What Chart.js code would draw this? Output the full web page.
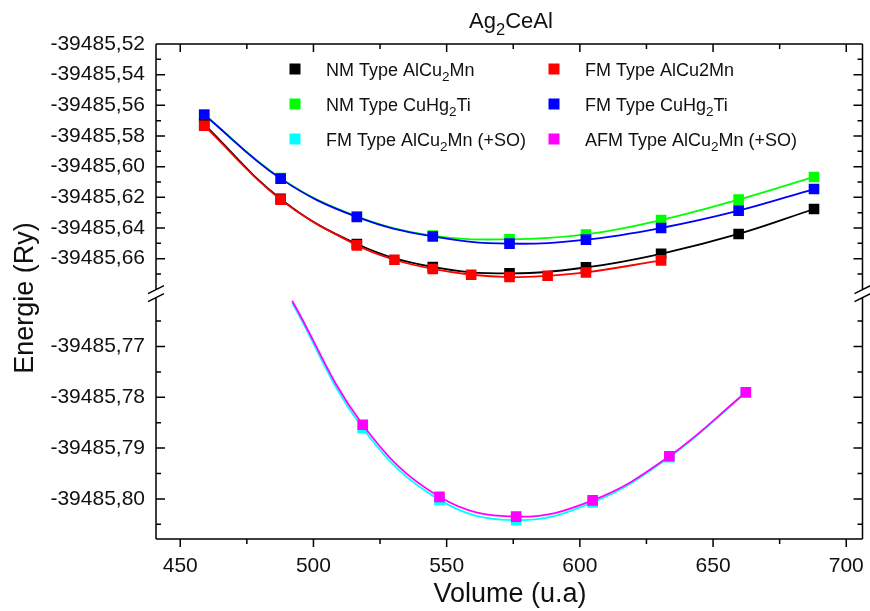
<!DOCTYPE html>
<html>
<head>
<meta charset="utf-8">
<script src="https://cdn.jsdelivr.net/npm/chart.js@4.4.0/dist/chart.umd.min.js"></script>
<style>
  html, body { margin: 0; padding: 0; background: #fff; }
  #wrap { width: 870px; height: 611px; }
</style>
</head>
<body>
<div id="wrap"><canvas id="c" width="870" height="611"></canvas></div>
<script>
// volumes (u.a)
var volNM = [459.0, 487.7, 516.3, 544.8, 573.6, 602.3, 630.5, 659.6, 687.9];
var volFM = [459.0, 487.7, 516.3, 530.4, 544.8, 559.2, 573.6, 587.9, 602.3, 630.5];
var volSO = [492.0, 518.5, 547.3, 576.1, 604.8, 633.6, 662.3]; // first one = where the fit curve enters the lower panel

// energies (Ry)
var eNM_AlCu2Mn = [-39485.5725, -39485.6210, -39485.6504, -39485.6654, -39485.6696, -39485.6657, -39485.6568, -39485.6439, -39485.6276];
var eFM_AlCu2Mn = [-39485.5733, -39485.6215, -39485.6513, -39485.6607, -39485.6667, -39485.6705, -39485.6720, -39485.6711, -39485.6690, -39485.6611];
var eNM_CuHg2Ti = [-39485.5660, -39485.6075, -39485.6324, -39485.6450, -39485.6474, -39485.6442, -39485.6348, -39485.6215, -39485.6067];
var eFM_CuHg2Ti = [-39485.5661, -39485.6078, -39485.6328, -39485.6455, -39485.6502, -39485.6476, -39485.6400, -39485.6287, -39485.6146];
var eFM_SO  = [-39485.7614, -39485.7861, -39485.8002, -39485.8042, -39485.8007, -39485.7918, -39485.7791];
var eAFM_SO = [-39485.7610, -39485.7854, -39485.7996, -39485.8035, -39485.8003, -39485.7916, -39485.7790];

// "_2" = subscript 2
var labels = ['NM Type AlCu_2Mn', 'FM Type AlCu2Mn', 'NM Type CuHg_2Ti', 'FM Type CuHg_2Ti', 'FM Type AlCu_2Mn (+SO)', 'AFM Type AlCu_2Mn (+SO)'];
var colors = ['#000000', '#ff0000', '#00ff00', '#0000ff', '#00ffff', '#ff00ff'];
var titleText = 'Ag_2CeAl';
var xTitle = 'Volume (u.a)';
var yTitle = 'Energie (Ry)';

var FONT = '"Liberation Sans", Arial, sans-serif';
function font(s) { return s + 'px ' + FONT; }

function pts(xs, ys) {
  var out = [];
  for (var i = 0; i < xs.length; i++) out.push({x: xs[i], y: ys[i]});
  return out;
}

function ds(i, xs, ys, axis, order, skipFirst) {
  return {
    label: labels[i],
    data: pts(xs, ys),
    yAxisID: axis,
    order: order,
    borderColor: colors[i],
    backgroundColor: colors[i],
    pointBackgroundColor: colors[i],
    pointBorderColor: colors[i],
    pointBorderWidth: 0,
    pointStyle: 'rect',
    pointRadius: function(c) { return (skipFirst && c.dataIndex === 0) ? 0 : 7.5; },
    borderWidth: 1.8,
    tension: 0.4,
    fill: false
  };
}

// text with subscript digits
function drawRich(ctx, text, x, y, size, align) {
  var parts = text.split(/_(\d)/);
  var sub = size * 0.75;
  var w = 0, ws = [];
  for (var i = 0; i < parts.length; i++) {
    ctx.font = font(i % 2 ? sub : size);
    ws.push(ctx.measureText(parts[i]).width);
    w += ws[i];
  }
  var cx = align === 'center' ? x - w / 2 : x;
  ctx.textAlign = 'left';
  ctx.textBaseline = 'alphabetic';
  for (var j = 0; j < parts.length; j++) {
    ctx.font = font(j % 2 ? sub : size);
    ctx.fillText(parts[j], cx, j % 2 ? y + size * 0.3 : y);
    cx += ws[j];
  }
}

var framePlugin = {
  id: 'frame',
  afterDraw: function(chart) {
    var ctx = chart.ctx;
    var a = chart.chartArea;
    var sx = chart.scales.x, sh = chart.scales.yHigh, sl = chart.scales.yLow;
    var yB = sh.bottom;
    ctx.save();
    ctx.strokeStyle = '#000';
    ctx.lineWidth = 1.5;
    ctx.beginPath();
    // top and bottom
    ctx.moveTo(a.left, a.top); ctx.lineTo(a.right, a.top);
    ctx.moveTo(a.left, a.bottom); ctx.lineTo(a.right, a.bottom);
    // left / right with a break
    [a.left, a.right].forEach(function(x) {
      ctx.moveTo(x, a.top); ctx.lineTo(x, yB - 5);
      ctx.moveTo(x, yB + 3); ctx.lineTo(x, a.bottom);
      ctx.moveTo(x - 8, yB - 1); ctx.lineTo(x + 8, yB - 9);
      ctx.moveTo(x - 8, yB + 7); ctx.lineTo(x + 8, yB - 1);
    });
    // x ticks: bottom outward, top inward
    sx.ticks.forEach(function(t) {
      var px = sx.getPixelForValue(t.value);
      var len = Math.round(t.value) % 50 === 0 ? 8 : 5;
      ctx.moveTo(px, a.bottom); ctx.lineTo(px, a.bottom + len);
      ctx.moveTo(px, a.top); ctx.lineTo(px, a.top + len);
    });
    // y ticks, inward on both sides
    function yt(scale, mul, lo, hi) {
      scale.ticks.forEach(function(t) {
        var py = scale.getPixelForValue(t.value);
        if (py < lo || py > hi) return;
        var len = Math.round(t.value * mul) % 2 === 0 ? 9 : 5;
        ctx.moveTo(a.left, py); ctx.lineTo(a.left + len, py);
        ctx.moveTo(a.right, py); ctx.lineTo(a.right - len, py);
      });
    }
    yt(sh, 100, a.top + 2, yB - 8);
    yt(sl, 200, yB + 8, a.bottom - 2);
    ctx.stroke();

    // texts
    ctx.fillStyle = '#111';
    drawRich(ctx, titleText, 511, 28, 22, 'center');
    ctx.font = font(27);
    ctx.textAlign = 'center';
    ctx.textBaseline = 'alphabetic';
    ctx.fillText(xTitle, 510, 602);
    ctx.save();
    ctx.translate(33, 298);
    ctx.rotate(-Math.PI / 2);
    ctx.fillText(yTitle, 0, 0);
    ctx.restore();

    // legend, 3 rows x 2 columns
    var colMark = [295, 554], colText = [326, 585], rows = [69, 104, 139];
    for (var i = 0; i < labels.length; i++) {
      var c = i % 2, r = Math.floor(i / 2);
      ctx.fillStyle = colors[i];
      ctx.fillRect(colMark[c] - 5.5, rows[r] - 5.5, 11, 11);
      ctx.fillStyle = '#111';
      drawRich(ctx, labels[i], colText[c], rows[r] + 6.5, 18, 'left');
    }
    ctx.restore();
  }
};

var tickFont = {family: FONT, size: 21};

new Chart(document.getElementById('c'), {
  type: 'line',
  data: {
    datasets: [
      ds(1, volFM, eFM_AlCu2Mn, 'yHigh', 1, false),
      ds(0, volNM, eNM_AlCu2Mn, 'yHigh', 2, false),
      ds(3, volNM, eFM_CuHg2Ti, 'yHigh', 3, false),
      ds(2, volNM, eNM_CuHg2Ti, 'yHigh', 4, false),
      ds(5, volSO, eAFM_SO, 'yLow', 5, true),
      ds(4, volSO, eFM_SO, 'yLow', 6, true)
    ]
  },
  options: {
    responsive: false,
    animation: false,
    layout: {padding: {top: 44, right: 6, left: 0, bottom: 0}},
    plugins: {legend: {display: false}, title: {display: false}, tooltip: {enabled: false}},
    scales: {
      x: {
        type: 'linear', position: 'bottom', min: 440.9, max: 706.1,
        afterFit: function(s) { s.height = 72; s.paddingLeft = 0; s.paddingRight = 0; },
        grid: {display: false, drawTicks: false}, border: {display: false},
        ticks: {
          stepSize: 25, autoSkip: false, includeBounds: false, maxRotation: 0,
          padding: 15, color: '#111', font: tickFont,
          callback: function(v) { return Math.round(v) % 50 === 0 ? String(Math.round(v)) : ''; }
        }
      },
      yLow: {
        type: 'linear', position: 'left', stack: 'E', stackWeight: 244.3,
        min: -39485.8079, max: -39485.7598,
        afterFit: function(s) { s.width = 156; },
        grid: {display: false, drawTicks: false}, border: {display: false},
        ticks: {
          stepSize: 0.005, autoSkip: false, includeBounds: false, maxTicksLimit: 40,
          padding: 11, color: '#111', font: tickFont,
          callback: function(v) {
            if (Math.round(v * 200) % 2 !== 0 || v > -39485.765) return '';
            return v.toFixed(2).replace('.', ',');
          }
        }
      },
      yHigh: {
        type: 'linear', position: 'left', stack: 'E', stackWeight: 250.7,
        min: -39485.6835, max: -39485.52,
        afterFit: function(s) { s.width = 156; },
        grid: {display: false, drawTicks: false}, border: {display: false},
        ticks: {
          stepSize: 0.01, autoSkip: false, includeBounds: false, maxTicksLimit: 40,
          padding: 11, color: '#111', font: tickFont,
          callback: function(v) {
            if (Math.round(v * 100) % 2 !== 0 || v < -39485.675) return '';
            return v.toFixed(2).replace('.', ',');
          }
        }
      }
    }
  },
  plugins: [framePlugin]
});
</script>
</body>
</html>
